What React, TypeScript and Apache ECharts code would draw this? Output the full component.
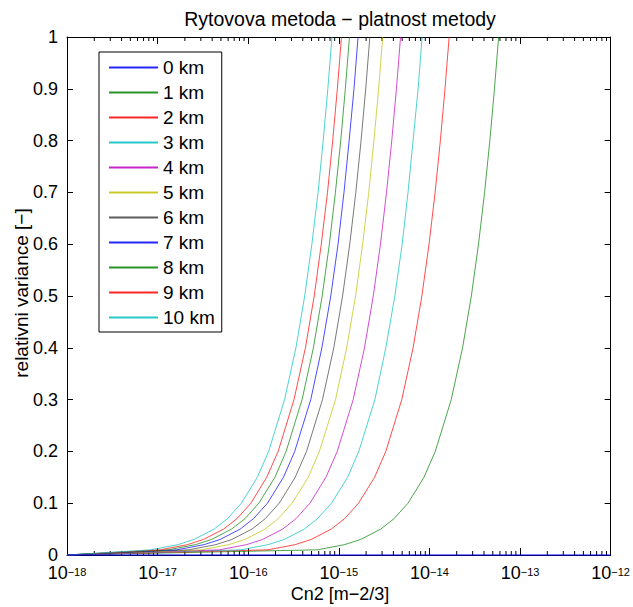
import React, { useEffect, useRef } from "react";
import * as echarts from "echarts";

const yLevels = [0, 0.01, 0.02, 0.03, 0.05, 0.07, 0.1, 0.15, 0.2, 0.3, 0.4, 0.5, 0.6, 0.7, 0.8, 0.9, 1.0];

// Cn2 values (x) read at each y level, per altitude
const km0X = [1e-18, 1e-12];
const km0Y = [0, 0];
const km1X = [1e-18, 5.8e-16, 1.16e-15, 1.74e-15, 2.9e-15, 4.06e-15, 5.8e-15, 8.7e-15, 1.16e-14, 1.74e-14, 2.32e-14, 2.9e-14, 3.48e-14, 4.06e-14, 4.64e-14, 5.22e-14, 5.8e-14];
const km2X = [1e-18, 1.65e-16, 3.3e-16, 4.95e-16, 8.25e-16, 1.155e-15, 1.65e-15, 2.48e-15, 3.3e-15, 4.95e-15, 6.6e-15, 8.25e-15, 9.9e-15, 1.155e-14, 1.32e-14, 1.485e-14, 1.65e-14];
const km3X = [1e-18, 8.3e-17, 1.66e-16, 2.5e-16, 4.15e-16, 5.8e-16, 8.3e-16, 1.25e-15, 1.66e-15, 2.5e-15, 3.3e-15, 4.15e-15, 5.0e-15, 5.8e-15, 6.6e-15, 7.5e-15, 8.3e-15];
const km4X = [1e-18, 4.8e-17, 9.6e-17, 1.44e-16, 2.4e-16, 3.36e-16, 4.8e-16, 7.2e-16, 9.6e-16, 1.44e-15, 1.92e-15, 2.4e-15, 2.88e-15, 3.36e-15, 3.84e-15, 4.32e-15, 4.8e-15];
const km5X = [1e-18, 3.05e-17, 6.1e-17, 9.2e-17, 1.53e-16, 2.14e-16, 3.05e-16, 4.6e-16, 6.1e-16, 9.2e-16, 1.22e-15, 1.53e-15, 1.83e-15, 2.14e-15, 2.44e-15, 2.75e-15, 3.05e-15];
const km6X = [1e-18, 2.2e-17, 4.4e-17, 6.6e-17, 1.1e-16, 1.54e-16, 2.2e-16, 3.3e-16, 4.4e-16, 6.6e-16, 8.8e-16, 1.1e-15, 1.32e-15, 1.54e-15, 1.76e-15, 1.98e-15, 2.2e-15];
const km7X = [1e-18, 1.63e-17, 3.26e-17, 4.9e-17, 8.15e-17, 1.14e-16, 1.63e-16, 2.45e-16, 3.26e-16, 4.9e-16, 6.5e-16, 8.15e-16, 9.8e-16, 1.14e-15, 1.3e-15, 1.47e-15, 1.63e-15];
const km8X = [1e-18, 1.31e-17, 2.62e-17, 3.93e-17, 6.55e-17, 9.2e-17, 1.31e-16, 1.97e-16, 2.62e-16, 3.93e-16, 5.24e-16, 6.55e-16, 7.86e-16, 9.17e-16, 1.05e-15, 1.18e-15, 1.31e-15];
const km9X = [1e-18, 1.07e-17, 2.14e-17, 3.2e-17, 5.35e-17, 7.5e-17, 1.07e-16, 1.6e-16, 2.14e-16, 3.2e-16, 4.28e-16, 5.35e-16, 6.4e-16, 7.5e-16, 8.56e-16, 9.63e-16, 1.07e-15];
const km10X = [1e-18, 8.4e-18, 1.68e-17, 2.52e-17, 4.2e-17, 5.9e-17, 8.4e-17, 1.26e-16, 1.68e-16, 2.52e-16, 3.36e-16, 4.2e-16, 5.04e-16, 5.9e-16, 6.72e-16, 7.56e-16, 8.4e-16];

const seriesNames = ["0 km", "1 km", "2 km", "3 km", "4 km", "5 km", "6 km", "7 km", "8 km", "9 km", "10 km"];
const seriesColors = ["#0000ff", "#008000", "#ff0000", "#00bfbf", "#bf00bf", "#bfbf00", "#404040", "#0000ff", "#008000", "#ff0000", "#00bfbf"];

const xMin = 1e-18;
const xMax = 1e-12;
const decades = [-18, -17, -16, -15, -14, -13];
const minorMultipliers = [2, 3, 4, 5, 6, 7, 8, 9];

const titleText = "Rytovova metoda \u2212 platnost metody";
const xName = "Cn2 [m\u22122/3]";
const yName = "relativni variance [\u2212]";

const FONT = "Liberation Sans, Arial, Helvetica, sans-serif";

export default function App() {
  const ref = useRef<HTMLDivElement>(null);
  useEffect(() => {
    if (!ref.current) return;
    const chart = echarts.init(ref.current, null, { renderer: "svg" });

    const curveXs = [km1X, km2X, km3X, km4X, km5X, km6X, km7X, km8X, km9X, km10X];
    const lineSeries: any[] = [];
    lineSeries.push({
      name: seriesNames[0],
      type: "line",
      data: km0X.map((x, i) => [x, km0Y[i]]),
      symbol: "none",
      showSymbol: false,
      clip: false,
      z: 5,
      lineStyle: { color: seriesColors[0], width: 1.2 },
      itemStyle: { color: seriesColors[0] },
    });
    curveXs.forEach((xs, k) => {
      lineSeries.push({
        name: seriesNames[k + 1],
        type: "line",
        data: xs.map((x, i) => [x, yLevels[i]]),
        symbol: "none",
        showSymbol: false,
        smooth: false,
        z: 3,
        lineStyle: { color: seriesColors[k + 1], width: 1, opacity: 0.7 },
        itemStyle: { color: seriesColors[k + 1] },
      });
    });

    const minorTicks: number[][] = [];
    decades.forEach((d) => minorMultipliers.forEach((m) => minorTicks.push([m * Math.pow(10, d), 0])));

    const logAxisBase = {
      type: "log",
      logBase: 10,
      min: xMin,
      max: xMax,
      splitNumber: 6,
      splitLine: { show: false },
      axisLine: { show: true, onZero: false, lineStyle: { color: "#000", width: 1 } },
      axisTick: { show: true, inside: true, length: 7, lineStyle: { color: "#000" } },
    };

    chart.setOption({
      animation: false,
      backgroundColor: "#fff",
      grid: { left: 67, right: 20, top: 37, bottom: 52, containLabel: false },
      legend: {
        data: seriesNames.map((n) => ({ name: n, icon: "rect" })),
        orient: "vertical",
        left: 99,
        top: 52,
        padding: [3, 7, 2, 10],
        itemWidth: 49,
        itemHeight: 2,
        itemGap: 0,
        borderColor: "#000",
        borderWidth: 1,
        backgroundColor: "#fff",
        z: 10,
        itemStyle: { borderWidth: 0, opacity: 0.85 },
        textStyle: { fontFamily: FONT, fontSize: 19, color: "#000", lineHeight: 25 },
      },
      xAxis: [
        {
          ...logAxisBase,
          position: "bottom",
          axisLabel: {
            show: true,
            margin: 11,
            formatter: (v: number) => {
              const e = Math.round(Math.log10(v));
              return "{b|10}{s|" + (e < 0 ? "\u2212" : "") + Math.abs(e) + "}";
            },
            rich: {
              b: { fontFamily: FONT, fontSize: 18, color: "#000", lineHeight: 16, verticalAlign: "bottom" },
              s: { fontFamily: FONT, fontSize: 11, color: "#000", lineHeight: 11, verticalAlign: "top" },
            },
          },
        },
        {
          ...logAxisBase,
          position: "top",
          axisLabel: { show: false },
        },
      ],
      yAxis: [
        {
          type: "value",
          min: 0,
          max: 1,
          interval: 0.1,
          position: "left",
          splitLine: { show: false },
          axisLine: { show: true, onZero: false, lineStyle: { color: "#000", width: 1 } },
          axisTick: { show: true, inside: true, length: 6, lineStyle: { color: "#000" } },
          axisLabel: { fontFamily: FONT, fontSize: 18, color: "#000", margin: 9, lineHeight: 15 },
        },
        {
          type: "value",
          min: 0,
          max: 1,
          interval: 0.1,
          position: "right",
          splitLine: { show: false },
          axisLine: { show: true, onZero: false, lineStyle: { color: "#000", width: 1 } },
          axisTick: { show: true, inside: true, length: 6, lineStyle: { color: "#000" } },
          axisLabel: { show: false },
        },
      ],
      graphic: [
        {
          type: "text",
          x: 340,
          y: 19,
          style: { text: titleText, font: "19.5px " + FONT, fill: "#000", align: "center", verticalAlign: "middle" },
        },
        {
          type: "text",
          x: 340,
          y: 594,
          style: { text: xName, font: "18px " + FONT, fill: "#000", align: "center", verticalAlign: "middle" },
        },
        {
          type: "text",
          x: 21,
          y: 293,
          rotation: Math.PI / 2,
          style: { text: yName, font: "19px " + FONT, fill: "#000", align: "center", verticalAlign: "middle" },
        },
      ],
      series: [
        {
          type: "custom",
          name: "minorTicks",
          silent: true,
          clip: false,
          z: 1,
          data: minorTicks,
          renderItem: (params: any, api: any) => {
            const v = api.value(0);
            const b = api.coord([v, 0]);
            const t = api.coord([v, 1]);
            return {
              type: "group",
              children: [
                { type: "line", shape: { x1: b[0], y1: b[1], x2: b[0], y2: b[1] - 4 }, style: { stroke: "#000", lineWidth: 1 } },
                { type: "line", shape: { x1: t[0], y1: t[1], x2: t[0], y2: t[1] + 4 }, style: { stroke: "#000", lineWidth: 1 } },
              ],
            };
          },
        },
        ...lineSeries,
      ],
    });
    return () => chart.dispose();
  }, []);
  return <div ref={ref} style={{ position: "fixed", left: 0, top: 0, width: 633, height: 607 }} />;
}
